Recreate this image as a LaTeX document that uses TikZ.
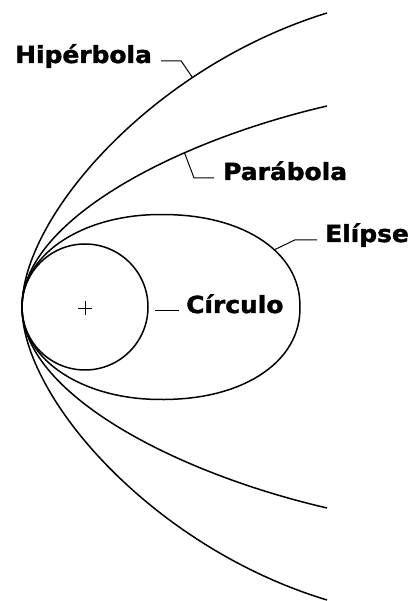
\documentclass[tikz,border=0pt]{standalone}
\usepackage{fontspec}
\usepackage{tikz}
\newfontfamily\labelfont{DejaVu Sans Bold}[FakeStretch=1.06, FakeBold=1.6]

\begin{document}
\begin{tikzpicture}[
        x=1pt, y=1pt,
        conic/.style={draw=black, line width=1.5pt, line join=round},
        leader/.style={draw=black, line width=1pt},
        conlabel/.style={anchor=base west, inner sep=0pt, font=\labelfont\fontsize{23.5}{28}\selectfont}
      ]
      \path[fill=white, use as bounding box] (-22,-294) rectangle (392,307);

      % curves sharing the vertex at (0,0)
      \draw[conic] (305,-293) .. controls (130,-240) and (0,-90) .. (0,0)
        .. controls (0,90) and (130,240) .. coordinate[pos=0.72] (hyptip) (305,294);
      \draw[conic] (305,-201) .. controls (150,-165) and (0,-85) .. (0,0)
        .. controls (0,85) and (150,165) .. coordinate[pos=0.68] (partip) (305,201);
      \draw[conic] plot[domain=-89:89, samples=60] ({139+139*pow(cos(\x),0.93)}, {92.5*sign(sin(\x))*pow(abs(sin(\x)),0.93)})
        -- plot[domain=91:269, samples=60] ({139-139*pow(abs(cos(\x)),0.976)}, {92.5*sign(sin(\x))*pow(abs(sin(\x)),0.976)}) -- cycle;
      \draw[conic] (63,0) circle (63);
      \draw[line width=0.8pt] (56,-1) -- (70,-1) (63,-8) -- (63,6);

      \coordinate (elitip) at (252,57);

      \node[conlabel] (hyp) at (-7,244) {Hipérbola};
      \node[conlabel] (par) at (201,127) {Parábola};
      \node[conlabel] (eli) at (303,65) {Elípse};
      \node[conlabel] (cir) at (164,-6) {Círculo};

      \draw[leader] ([xshift=9pt]hyp.mid east) -- ++(20,0) -- (hyptip);
      \draw[leader] (partip) -- ([xshift=-29pt]par.mid west) -- ([xshift=-9pt]par.mid west);
      \draw[leader] (elitip) -- ([xshift=-30pt]eli.mid west) -- ([xshift=-8pt]eli.mid west);
      \draw[leader] ([xshift=-31pt]cir.mid west) -- ([xshift=-7pt]cir.mid west);
    \end{tikzpicture}
\end{document}
